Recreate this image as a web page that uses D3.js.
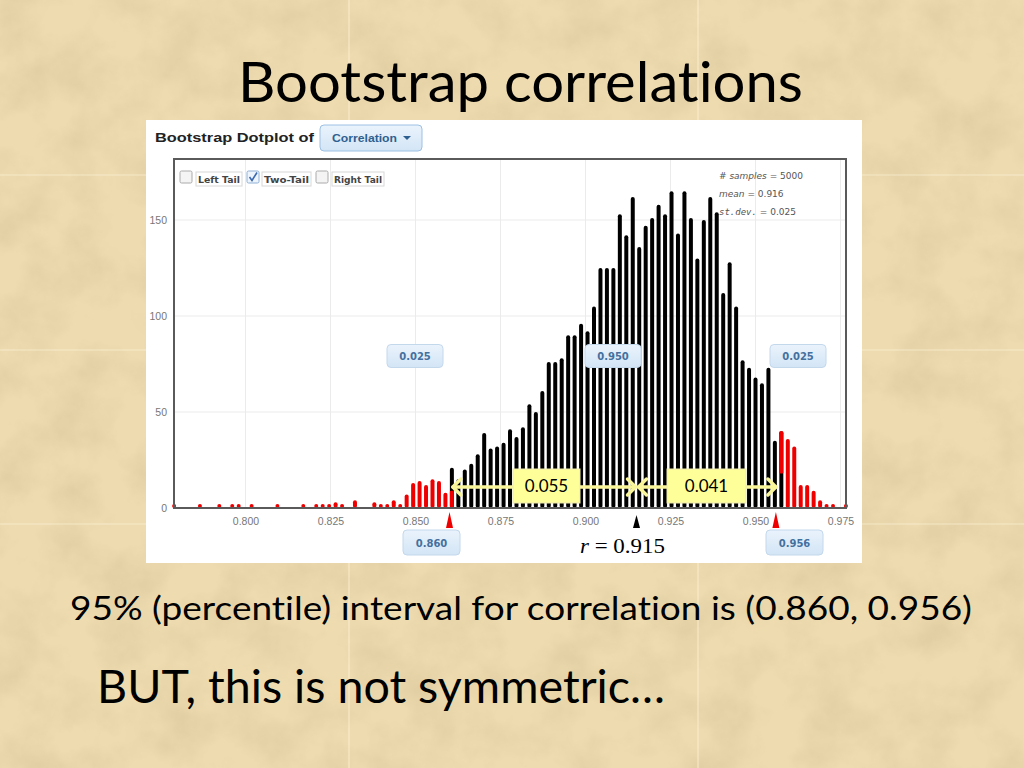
<!DOCTYPE html>
<html><head><meta charset="utf-8">
<script src="https://cdn.jsdelivr.net/npm/d3@7"></script>
<style>body{margin:0;overflow:hidden;background:#e8d4a4}svg{display:block}text{font-variant-ligatures:none;font-feature-settings:"liga" 0,"clig" 0}</style>
</head><body>
<script>
// ---------------- DATA ----------------
const binCenters = [
  0.7790,0.7866,0.7923,0.7961,0.7980,0.8018,0.8094,0.8170,0.8208,0.8227,0.8246,0.8265,0.8284,
  0.8322,0.8379,0.8398,0.8417,0.8436,0.8455,0.8474,0.8493,0.8512,0.8531,0.8550,0.8569,0.8588,
  0.8607,
  0.8626,0.8645,0.8664,0.8683,0.8702,0.8721,0.8740,0.8759,0.8778,0.8797,
  0.8816,0.8835,0.8854,0.8873,0.8892,0.8911,0.8930,0.8949,0.8968,0.8987,
  0.9006,0.9025,0.9044,0.9063,0.9082,0.9101,0.9120,0.9139,0.9158,0.9177,
  0.9196,0.9215,0.9234,0.9253,0.9272,0.9291,0.9310,0.9329,0.9348,0.9367,
  0.9386,0.9405,0.9424,0.9443,0.9462,0.9481,0.9500,0.9519,0.9538,0.9557,
  0.9576,0.9595,0.9614,0.9633,0.9652,0.9671,0.9690,0.9709,0.9728,0.9766
];
const counts = [
  1,1,1,1,1,1,1,1,2,1,1,3,1,
  4,3,2,1,4,2,7,13,14,12,15,14,8,
  21,
  15,20,23,28,39,31,32,34,41,37,
  42,54,50,61,76,76,78,90,90,96,
  92,105,125,125,125,153,142,162,136,147,
  151,158,153,165,143,165,151,130,150,162,
  154,112,128,105,77,73,68,65,73,35,
  40,36,32,12,12,9,4,2,2,2
];
const tailCounts = [
  1,1,1,1,1,1,1,1,2,1,1,3,1,
  4,3,2,1,4,2,7,13,14,12,15,14,8,
  9,
  0,0,0,0,0,0,0,0,0,0,
  0,0,0,0,0,0,0,0,0,0,
  0,0,0,0,0,0,0,0,0,0,
  0,0,0,0,0,0,0,0,0,0,
  0,0,0,0,0,0,0,0,0,0,
  22,36,32,12,12,9,4,2,2,2
];
const xTicks = [0.800,0.825,0.850,0.875,0.900,0.925,0.950,0.975];
const yTicks = [0,50,100,150];
const lowerBound = 0.860, upperBound = 0.956, observedR = 0.915;
const tailLabels = ["0.025","0.950","0.025"];
const boundLabels = ["0.860","0.956"];
const distLabels = ["0.055","0.041"];
const statLabels = [["# samples"," = 5000"],["mean"," = 0.916"],["st.dev."," = 0.025"]];
const tailOptions = ["Left Tail","Two-Tail","Right Tail"];
const tailChecked = [false,true,false];

// ---------------- DRAW ----------------
const W = 1024, H = 768;
const svg = d3.select("body").append("svg").attr("width",W).attr("height",H);
const defs = svg.append("defs");
const f = defs.append("filter").attr("id","paper").attr("x",0).attr("y",0).attr("width","100%").attr("height","100%");
f.append("feTurbulence").attr("type","fractalNoise").attr("baseFrequency","0.02").attr("numOctaves",5).attr("seed",11);
f.append("feColorMatrix").attr("type","matrix")
 .attr("values","0 0 0 0 0.66  0 0 0 0 0.52  0 0 0 0 0.30  0.9 0 0 0 -0.33");
const g1 = defs.append("linearGradient").attr("id","btn").attr("x1",0).attr("y1",0).attr("x2",0).attr("y2",1);
g1.append("stop").attr("offset","0%").attr("stop-color","#eaf3fc");
g1.append("stop").attr("offset","100%").attr("stop-color","#d3e5f6");

svg.append("rect").attr("width",W).attr("height",H).attr("fill","#eedcb0");
svg.append("rect").attr("width",W).attr("height",H).attr("filter","url(#paper)");
// tile seams
[349,698].forEach(sx=>svg.append("line").attr("x1",sx).attr("x2",sx).attr("y1",0).attr("y2",H)
  .attr("stroke","#fff6dc").attr("stroke-opacity",0.5).attr("stroke-width",1.5));
[175,350,524].forEach(sy=>svg.append("line").attr("y1",sy).attr("y2",sy).attr("x1",0).attr("x2",W)
  .attr("stroke","#fff6dc").attr("stroke-opacity",0.4).attr("stroke-width",1.5));

// slide title
svg.append("text").attr("x",238).attr("y",102).attr("font-family","Lato").attr("font-size",56)
  .attr("fill","#000").attr("textLength",565).attr("lengthAdjust","spacingAndGlyphs").text("Bootstrap correlations");

// white panel
svg.append("rect").attr("x",146).attr("y",120).attr("width",716).attr("height",443).attr("fill","#fff");

// header
svg.append("text").attr("x",155).attr("y",142).attr("font-family","Liberation Sans").attr("font-weight","bold")
  .attr("font-size",13.5).attr("fill","#222").attr("textLength",159).attr("lengthAdjust","spacingAndGlyphs").text("Bootstrap Dotplot of");
svg.append("rect").attr("x",320).attr("y",125).attr("width",102).attr("height",26).attr("rx",4)
  .attr("fill","url(#btn)").attr("stroke","#9cc0e3");
svg.append("text").attr("x",332).attr("y",142).attr("font-family","Liberation Sans").attr("font-weight","bold")
  .attr("font-size",11).attr("fill","#2f5f90").attr("textLength",65).attr("lengthAdjust","spacingAndGlyphs").text("Correlation");
svg.append("path").attr("d","M403,136 L411,136 L407,140 Z").attr("fill","#2f5f90");

// scales
const x = d3.scaleLinear().domain([0.800,0.975]).range([245.5,840.5]);
const y = d3.scaleLinear().domain([0,150]).range([508,220]);
const pL = 174, pR = 846, pT = 159, pB = 508;

// grid
const grid = svg.append("g");
grid.selectAll(".vg").data(xTicks).join("line").attr("x1",d=>x(d)).attr("x2",d=>x(d)).attr("y1",pT).attr("y2",pB)
  .attr("stroke","#ebebeb").attr("stroke-width",1);
grid.selectAll(".hg").data(yTicks.filter(d=>d>0)).join("line").attr("x1",pL).attr("x2",pR).attr("y1",d=>y(d)).attr("y2",d=>y(d))
  .attr("stroke","#ebebeb").attr("stroke-width",1);

// checkboxes
const cbX = [180,247,316], lbX = [196,262,332], lbW = [46,49,52];
tailOptions.forEach((t,i)=>{
  svg.append("rect").attr("x",cbX[i]).attr("y",171).attr("width",12).attr("height",12).attr("rx",1.5)
    .attr("fill",tailChecked[i]?"#eef4fb":"#f4f4f4").attr("stroke",tailChecked[i]?"#8fb0d6":"#aaa");
  if(tailChecked[i]) svg.append("path").attr("d",`M${cbX[i]+2.5},${177} L${cbX[i]+5},${180.5} L${cbX[i]+10},${172.5}`)
    .attr("fill","none").attr("stroke","#3b69b0").attr("stroke-width",1.6);
  svg.append("rect").attr("x",lbX[i]).attr("y",172).attr("width",lbW[i]).attr("height",14)
    .attr("fill","#fff").attr("stroke","#d8d8d8");
  svg.append("text").attr("x",lbX[i]+2).attr("y",183).attr("font-family","DejaVu Sans").attr("font-weight","bold")
    .attr("font-size",9.5).attr("fill","#444").attr("textLength",lbW[i]-4).attr("lengthAdjust","spacingAndGlyphs").text(t);
});

// bars
const bars = svg.append("g");
const bw = 4;
binCenters.forEach((c,i)=>{
  const n = counts[i], t = tailCounts[i];
  const top = Math.min(y(n), pB-4);
  bars.append("rect").attr("x",x(c)-bw/2).attr("y",top).attr("width",bw).attr("height",pB-top).attr("rx",2)
    .attr("fill", t===n ? "#ee0000" : "#000");
  if(t>0 && t<n){
    if(c<observedR){
      const tt = y(t);
      bars.append("rect").attr("x",x(c)-bw/2).attr("y",tt).attr("width",bw).attr("height",pB-tt).attr("rx",1).attr("fill","#ee0000");
    } else {
      const tt = y(n-t);
      bars.append("rect").attr("x",x(c)-bw/2).attr("y",top).attr("width",bw).attr("height",tt-top).attr("rx",1).attr("fill","#ee0000");
    }
  }
});

// plot border
svg.append("rect").attr("x",pL).attr("y",pT).attr("width",pR-pL).attr("height",pB-pT)
  .attr("fill","none").attr("stroke","#5a5a5a").attr("stroke-width",2);

// axes
const xa = svg.append("g").attr("transform",`translate(0,${pB})`)
  .call(d3.axisBottom(x).tickValues(xTicks).tickSize(0).tickPadding(10).tickFormat(d3.format(".3f")));
xa.select(".domain").remove();
xa.selectAll("text").attr("font-family","Liberation Sans").attr("font-size",10.5).attr("fill","#777");
const ya = svg.append("g").attr("transform",`translate(${pL},0)`)
  .call(d3.axisLeft(y).tickValues(yTicks).tickSize(0).tickPadding(7));
ya.select(".domain").remove();
ya.selectAll("text").attr("font-family","Liberation Sans").attr("font-size",10.5).attr("fill","#777");

// stats
statLabels.forEach((s,i)=>{
  const t = svg.append("text").attr("x",719).attr("y",179+i*18).attr("font-family","DejaVu Sans").attr("font-size",9).attr("fill","#555");
  t.append("tspan").attr("font-style","italic").attr("font-family", i===2?"DejaVu Sans Mono":"DejaVu Sans").text(s[0]);
  t.append("tspan").text(s[1]);
});

// blue labels
function blueBox(cx,cy,w,h,txt){
  svg.append("rect").attr("x",cx-w/2).attr("y",cy-h/2).attr("width",w).attr("height",h).attr("rx",4)
    .attr("fill","url(#btn)").attr("stroke","#c4d8ec");
  svg.append("text").attr("x",cx).attr("y",cy+4).attr("text-anchor","middle").attr("font-family","DejaVu Sans")
    .attr("font-weight","bold").attr("font-size",10).attr("fill","#44709e").text(txt);
}
blueBox(415,356,56,23,tailLabels[0]);
blueBox(613,356,56,23,tailLabels[1]);
blueBox(798,356,56,23,tailLabels[2]);
blueBox(431.5,542.5,57,25,boundLabels[0]);
blueBox(794.5,542.5,57,25,boundLabels[1]);

// markers
function tri(v,top,col){
  const cx = x(v);
  svg.append("path").attr("d",`M${cx-3.5},528 L${cx},${top} L${cx+3.5},528 Z`).attr("fill",col);
}
tri(lowerBound,512,"#ee0000");
tri(observedR,515,"#000");
tri(upperBound,512,"#ee0000");

// r label
const rt = svg.append("text").attr("x",580).attr("y",553).attr("font-family","Liberation Serif").attr("font-size",20)
  .attr("fill","#000").attr("textLength",85).attr("lengthAdjust","spacingAndGlyphs");
rt.append("tspan").attr("font-style","italic").text("r");
rt.append("tspan").text(" = 0.915");

// yellow arrows
const yel = "#f8f59a";
function arrow(x1,x2,yy){
  const g = svg.append("g").attr("fill","none").attr("stroke",yel).attr("stroke-width",3.5)
    .attr("stroke-linecap","round").attr("stroke-linejoin","round");
  g.append("line").attr("x1",x1+1).attr("x2",x2-1).attr("y1",yy).attr("y2",yy);
  g.append("path").attr("d",`M${x1+9},${yy-8} L${x1+1},${yy} L${x1+9},${yy+8}`);
  g.append("path").attr("d",`M${x2-9},${yy-8} L${x2-1},${yy} L${x2-9},${yy+8}`);
}
arrow(x(binCenters[26]), x(observedR), 487);
arrow(x(observedR)+1, x(upperBound)+1, 487);
function yBox(x0,x1,txt){
  svg.append("rect").attr("x",x0).attr("y",469).attr("width",x1-x0).attr("height",34)
    .attr("fill","#ffff99").attr("stroke","#eeeab0");
  svg.append("text").attr("x",(x0+x1)/2).attr("y",492).attr("text-anchor","middle").attr("font-family","Lato")
    .attr("font-size",17).attr("fill","#000").text(txt);
}
yBox(513,580,distLabels[0]);
yBox(667,746,distLabels[1]);

// bottom text
svg.append("text").attr("x",70).attr("y",620).attr("font-family","Lato").attr("font-size",33).attr("fill","#000")
  .attr("textLength",902).attr("lengthAdjust","spacingAndGlyphs").text("95% (percentile) interval for correlation is (0.860, 0.956)");
svg.append("text").attr("x",97).attr("y",703).attr("font-family","Lato").attr("font-size",46).attr("fill","#000")
  .attr("textLength",568).attr("lengthAdjust","spacingAndGlyphs").text("BUT, this is not symmetric…");
</script>
</body></html>
